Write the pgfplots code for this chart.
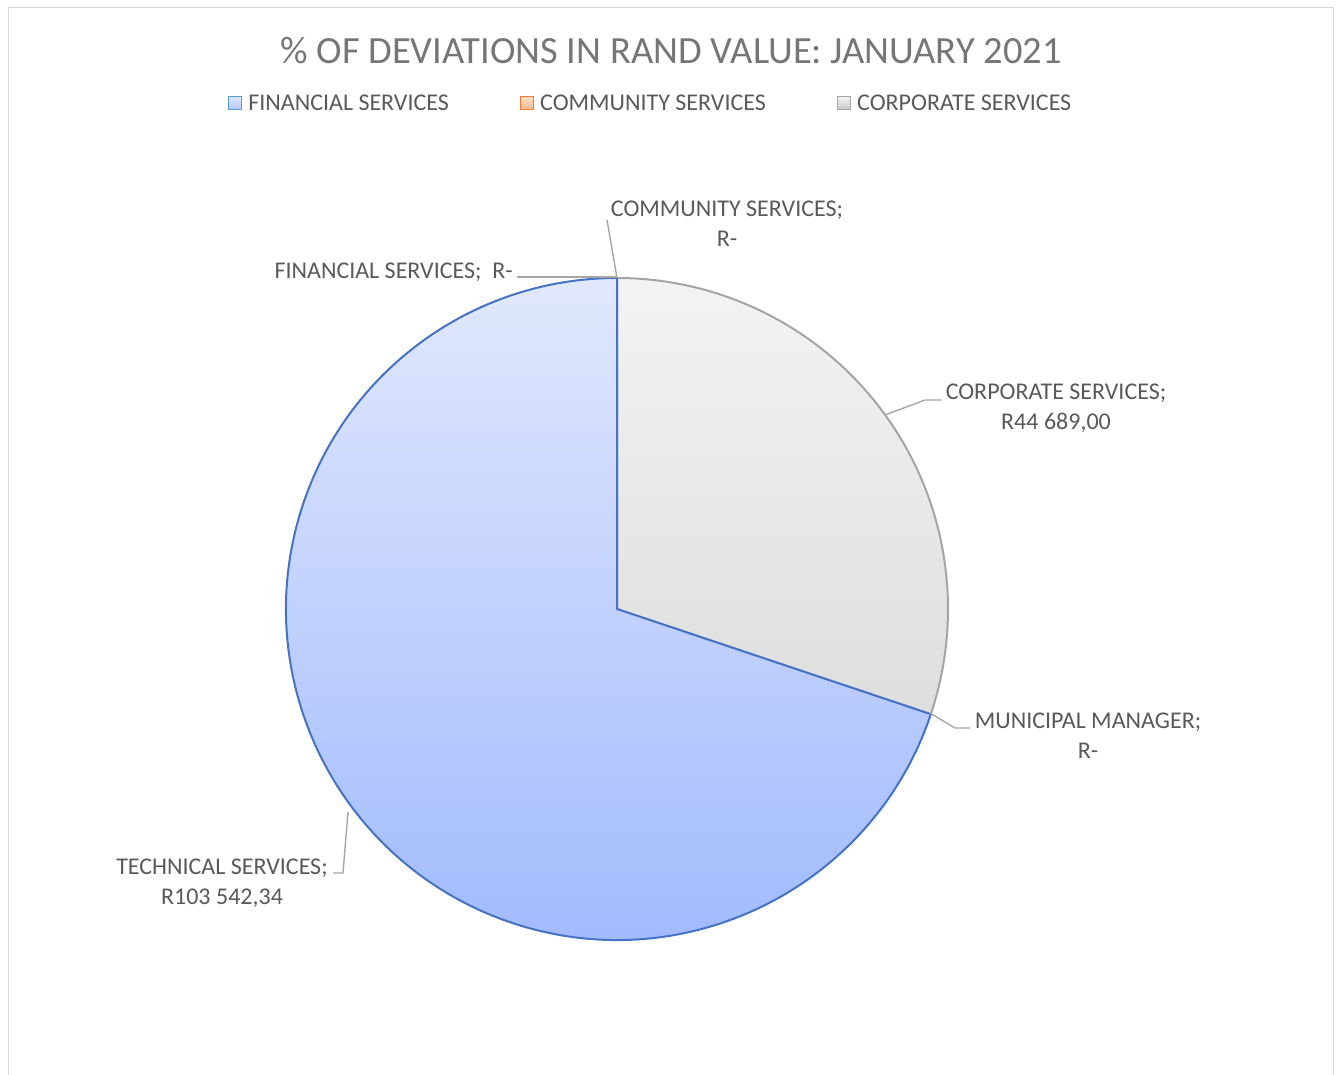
\documentclass[border=0pt]{standalone}
\usepackage{pgfplots}
\pgfplotsset{compat=1.18}
\usepackage{pgfplotstable}
\usepackage{fontspec}
\setmainfont{Carlito}
\definecolor{txt}{RGB}{89,89,89}
\definecolor{ttl}{RGB}{118,118,118}
\definecolor{techtop}{RGB}{225,232,253}
\definecolor{techbot}{RGB}{158,184,253}
\definecolor{techline}{RGB}{68,114,196}
\definecolor{corptop}{RGB}{243,243,243}
\definecolor{corpbot}{RGB}{222,222,222}
\definecolor{corpline}{RGB}{165,165,165}
\definecolor{finline}{RGB}{91,155,213}
\definecolor{comline}{RGB}{237,125,49}
\definecolor{frame}{RGB}{217,217,217}
\definecolor{lead}{RGB}{166,166,166}

\pgfplotstableread{
name value
Financial 0
Community 0
Corporate 44689.00
Municipal 0
Technical 103542.34
}\piedata

\begin{document}%
\pgfplotstablegetelem{2}{value}\of\piedata \let\vcorp\pgfplotsretval%
\pgfplotstablegetelem{4}{value}\of\piedata \let\vtech\pgfplotsretval%
\edef\total{\fpeval{\vcorp+\vtech}}%
\edef\acorp{\fpeval{90-360*\vcorp/\total}}%
\edef\atech{\fpeval{\acorp-360*\vtech/\total}}%
\begin{tikzpicture}[x=1pt,y=1pt]
\useasboundingbox (0,0) rectangle (1341,1075);
\draw[frame, line width=1.6pt] (8.5,0) -- (8.5,1067.5) -- (1333.5,1067.5) -- (1333.5,0);
\begin{axis}[
  at={(0,0)}, anchor=south west,
  scale only axis, width=1341pt, height=1075pt,
  xmin=0, xmax=1341, ymin=0, ymax=1075,
  hide axis, clip=false,
  font=\fontsize{24}{30}\selectfont,
  legend columns=3,
  legend style={at={(axis cs:228,972)}, anchor=west, draw=none, fill=none,
    inner sep=0pt, outer sep=0pt, text=txt,
    nodes={inner sep=0pt, outer xsep=0pt, anchor=west},
    /tikz/every odd column/.append style={column sep=6pt},
    /tikz/every even column/.append style={column sep=71pt}},
  legend image code/.code={\path[#1] (0pt,-6.5pt) rectangle (13pt,6.5pt);},
]
\addlegendimage{draw=finline, line width=1.3pt, top color=techtop, bottom color=techbot!80}
\addlegendentry{FINANCIAL SERVICES}
\addlegendimage{draw=comline, line width=1.3pt, top color=comline!25, bottom color=comline!55}
\addlegendentry{COMMUNITY SERVICES}
\addlegendimage{draw=corpline, line width=1.3pt, top color=corptop, bottom color=corpbot!90!black}
\addlegendentry{CORPORATE SERVICES}

% pie slices from the table values
\path[top color=corptop, bottom color=corpbot, draw=corpline, line width=2pt, line join=round]
  (axis cs:617,466) -- ++(90:331pt) arc[start angle=90, end angle=\acorp, radius=331pt] -- cycle;
\path[top color=techtop, bottom color=techbot, draw=techline, line width=2pt, line join=round]
  (axis cs:617,466) -- ++(\acorp:331pt) arc[start angle=\acorp, end angle=\atech, radius=331pt] -- cycle;

% leader lines
\draw[lead, line width=1.4pt] (axis cs:617,797) -- (axis cs:607,855);
\draw[lead, line width=1.4pt] (axis cs:517,798) -- (axis cs:617,798);
\draw[lead, line width=1.4pt] (axis cs:885,660) -- (axis cs:925,675) -- (axis cs:942,675);
\draw[lead, line width=1.4pt] (axis cs:930,362) -- (axis cs:955,347) -- (axis cs:970,347);
\draw[lead, line width=1.4pt] (axis cs:348,263) -- (axis cs:343,202) -- (axis cs:333,202);

% labels
\node[text=txt, align=center, inner sep=0pt] at (axis cs:727,851) {COMMUNITY SERVICES;\\R-};
\node[text=txt, anchor=east, inner sep=0pt] at (axis cs:513,803) {FINANCIAL SERVICES;\ \ R-};
\node[text=txt, align=center, inner sep=0pt] at (axis cs:1056,667) {CORPORATE SERVICES;\\R44 689,00};
\node[text=txt, align=center, inner sep=0pt] at (axis cs:1088,339) {MUNICIPAL MANAGER;\\R-};
\node[text=txt, align=center, inner sep=0pt] at (axis cs:222,192) {TECHNICAL SERVICES;\\R103 542,34};

% title
\node[text=ttl, font=\fontsize{38.5}{44}\selectfont, inner sep=0pt] at (axis cs:671,1024) {\% OF DEVIATIONS IN RAND VALUE: JANUARY 2021};
\end{axis}
\end{tikzpicture}%
\end{document}
